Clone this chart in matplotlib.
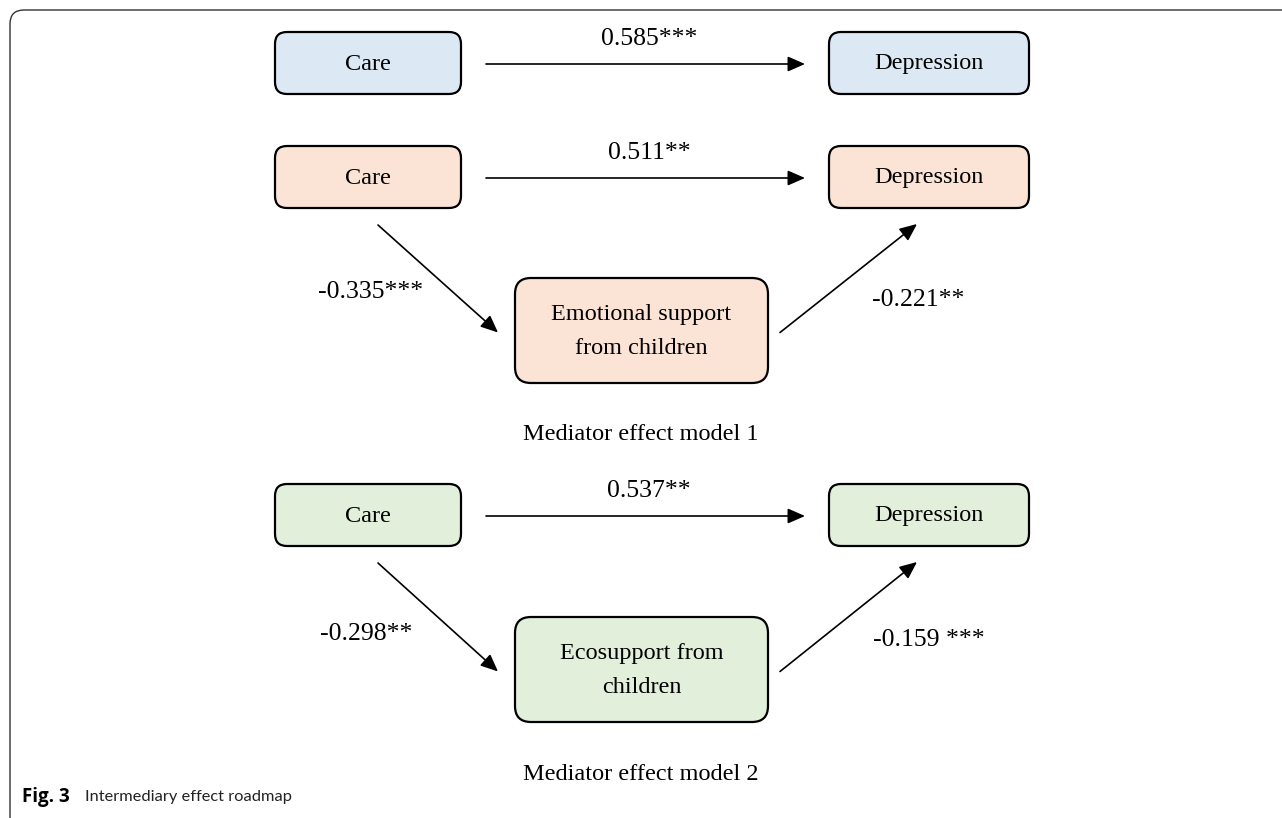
import matplotlib
matplotlib.use("Agg")
import matplotlib.pyplot as plt
from matplotlib.patches import FancyBboxPatch, FancyArrowPatch
from matplotlib.path import Path
from matplotlib.patches import PathPatch

# ---- data ----
models = ["Total effect", "Mediator effect model 1", "Mediator effect model 2"]
predictor_labels = ["Care", "Care", "Care"]
outcome_labels = ["Depression", "Depression", "Depression"]
mediator_labels = [None, "Emotional support\nfrom children", "Ecosupport from\nchildren"]
direct_coefs = ["0.585***", "0.511**", "0.537**"]
a_coefs = [None, "-0.335***", "-0.298**"]
b_coefs = [None, "-0.221**", "-0.159 ***"]
model_titles = [None, "Mediator effect model 1", "Mediator effect model 2"]
fill_colors = ["#dde8f5", "#fbe4d6", "#e2efda"]
caption_bold = "Fig. 3"
caption_text = "Intermediary effect roadmap"

# ---- layout (pixel coordinates) ----
W, H = 1282, 818
fig = plt.figure(figsize=(W / 100, H / 100), dpi=100)
ax = fig.add_axes([0, 0, 1, 1])
ax.set_xlim(0, W)
ax.set_ylim(H, 0)
ax.axis("off")

serif = "Liberation Serif"
FS = 17.5      # text inside boxes
FS_LAB = 18.5  # coefficients
FS_TITLE = 17.5

# outer frame (rounded top-left corner, open to right and bottom)
r = 14
verts = [(10, H + 5), (10, 10 + r), (10, 10), (10 + r, 10), (W + 5, 10)]
codes = [Path.MOVETO, Path.LINETO, Path.CURVE3, Path.CURVE3, Path.LINETO]
ax.add_patch(PathPatch(Path(verts, codes), fill=False, lw=1.0, ec="#333333"))

def box(x0, y0, x1, y1, color, text, pad=12):
    p = FancyBboxPatch((x0 + pad, y0 + pad), (x1 - x0) - 2 * pad, (y1 - y0) - 2 * pad,
                       boxstyle=f"round,pad={pad}", fc=color, ec="black", lw=1.6,
                       mutation_aspect=1)
    ax.add_patch(p)
    ax.text((x0 + x1) / 2, (y0 + y1) / 2 + 1, text, ha="center", va="center",
            fontsize=FS, family=serif, linespacing=1.85)

def arrow(x0, y0, x1, y1):
    a = FancyArrowPatch((x0, y0), (x1, y1),
                        arrowstyle="-|>,head_length=10.5,head_width=4.6",
                        mutation_scale=1, lw=1.2, color="black", shrinkA=0, shrinkB=0)
    ax.add_patch(a)

row_y = [32, 146, 484]
med_y = [None, 278, 617]
LX0, LX1 = 275, 461
RX0, RX1 = 829, 1029
MX0, MX1 = 515, 768
a_pos = [None, (371, -38), (366, -36)]
b_pos = [None, (918, -31), (929, -30)]

for i in range(3):
    y0 = row_y[i]
    y1 = y0 + 62
    yc = (y0 + y1) / 2
    box(LX0, y0, LX1, y1, fill_colors[i], predictor_labels[i])
    box(RX0, y0, RX1, y1, fill_colors[i], outcome_labels[i])
    arrow(486, yc + 1, 805, yc + 1)
    ax.text(649, yc - 24, direct_coefs[i], ha="center", va="center",
            fontsize=FS_LAB, family=serif)
    if mediator_labels[i] is not None:
        m0 = med_y[i]
        m1 = m0 + 105
        mc = (m0 + m1) / 2
        box(MX0, m0, MX1, m1, fill_colors[i], mediator_labels[i], pad=16)
        arrow(378, y1 + 17, 498, mc + 2)
        arrow(780, mc + 2, 917, y1 + 16)
        ax.text(a_pos[i][0], mc + a_pos[i][1], a_coefs[i], ha="center", va="center",
                fontsize=FS_LAB, family=serif)
        ax.text(b_pos[i][0], mc + b_pos[i][1], b_coefs[i], ha="center",
                va="center", fontsize=FS_LAB, family=serif)
        ax.text(641, m1 + 52, model_titles[i], ha="center", va="center",
                fontsize=FS_TITLE, family=serif)

# caption
ax.text(22, 797, caption_bold, ha="left", va="center", fontsize=13.5,
        family="Open Sans", weight="bold")
ax.text(85, 797, caption_text, ha="left", va="center", fontsize=11.8,
        family="Lato", color="#222222")

fig.savefig("out.png", dpi=100)
